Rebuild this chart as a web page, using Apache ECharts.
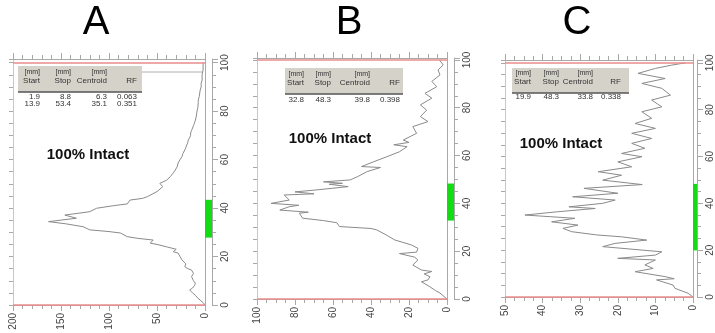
<!DOCTYPE html>
<html>
<head>
<meta charset="utf-8">
<script src="https://cdn.jsdelivr.net/npm/echarts@6/dist/echarts.min.js"></script>
<style>
    html, body { margin: 0; padding: 0; background: #fff; }
    #main { width: 715px; height: 333px; }
</style>
</head>
<body>
<div id="main"></div>
<script type="text/javascript">
    // ---- data: [counts, position mm] ----
    var traceA = [[0,0],[2,1],[5,2],[8,3],[10,4],[13,5],[16,6.2],[13,7],[11,8],[10,9],[12,10],[14,11.7],[12,13],[14,14.4],[18,15],
        [21,15.8],[20,17],[24,18.6],[26,20],[28,21.4],[33,22],[30,23],[40,24],[50,25],[57,25.5],[54,26.8],[70,27.5],[81,28.2],
        [88,29.7],[100,30.3],[120,31],[127,32.3],[145,33.5],[163,34.4],[134,35.8],[146,37.1],[120,38.5],[113,39.9],[95,41],
        [81,41.7],[78,43.3],[65,44],[60,44.7],[58,45.5],[50,46.8],[44,48.8],[47,50.2],[40,51.5],[36,53],[33,54.5],[31,55.7],
        [29,57],[28,58.6],[26,60],[24,61.2],[23,62.5],[21,64],[20,65],[19,66],[18,67],[17.5,68],[16,69],[15,70],[15,71],
        [14,72],[13,73],[12,74],[11,75],[10,76.3],[10,77],[9,78],[8.5,79.5],[8,80.5],[7.5,81.5],[7,82],[7,83.5],[7,84.6],
        [6,86],[5.5,87.5],[5,88.7],[4,90],[4,91.5],[3,92.8],[3,94],[3,95],[2,97],[2,98.5],[2,100]];
    var traceB = [[0,0],[1,0.3],[3.7,2.5],[6,3.5],[9,5.1],[13.4,7.2],[10,8],[9,9.3],[12,10.5],[8,11.5],[13.4,12.1],[18,14.2],
        [15.3,16.3],[17,17.5],[25,19],[16,19.6],[15.3,21.2],[18.7,22.6],[27.5,24.7],[32,26.8],[37,28.9],[40,29.5],[56.6,30.3],
        [58,31.9],[65,32.8],[76,33.8],[77.7,35.9],[73,36.3],[88,37.2],[83,38.6],[78,39.2],[92.6,40],[83,41.4],[85.7,43.5],
        [70,44],[80,44.8],[69,45.6],[52,47],[62,48],[55,48.4],[65,49],[51,49.8],[47,51.2],[42,53.3],[35,55],[45,55.4],
        [38.6,57.4],[31.7,59.5],[25,61.6],[21,63.7],[28,64.5],[20,65.5],[23,66.5],[16,69.3],[18,72.1],[10,74.2],[14,76.3],
        [10.7,79],[14,81.2],[8,84],[11.6,86],[5.4,88.8],[8,91],[3.7,93.7],[4.7,95.8],[2,97.9],[4,100]];
    var traceC = [[0,0],[1.3,1.6],[4.8,3.7],[5.3,5.1],[9.7,7.3],[5,7.8],[7.4,8.7],[15.4,10.8],[10.6,12.2],[12.8,13.7],[10,15.8],
        [20,16.5],[10,17.9],[8.3,19.3],[24,21.5],[20.7,22.9],[12.3,24.3],[19,25.7],[25.6,26.5],[32.3,27.9],[34.6,29.3],
        [30.6,30.7],[37.6,32.1],[31.4,33.6],[44.7,35],[36,36.4],[26,37.8],[33,38.5],[24,40],[20.7,41.4],[32,42.8],[20,44.3],
        [29,46.4],[13.5,48],[24,49.9],[19,52],[25.2,53.5],[16.3,55.6],[20,57.7],[13.6,59.9],[19,61.3],[12.8,63.5],[16.3,65.6],
        [11,67.7],[16.3,69.9],[10,72],[15.4,74.1],[11,76.3],[13.6,79.1],[8.3,81.2],[11,84.1],[6,86.2],[8.3,89.1],[13.6,91.2],
        [7.4,93.3],[14.6,95.5],[10,97.6],[5.7,99],[2,100]];

    // green region [start, stop] on the position strip
    var regionA = [27.8, 43.4];
    var regionB = [32.8, 48.3];
    var regionC = [19.9, 48.3];

    // counts axis: max and label step
    var countMax = [200, 100, 50];
    var countStep = [50, 20, 10];
    var countMinor = [5, 4, 4];

    // tables
    var tableHead1 = ['[mm]', '[mm]', '[mm]', ''];
    var tableHead2 = ['Start', 'Stop', 'Centroid', 'RF'];
    var tableA = [['1.9', '8.8', '6.3', '0.063'], ['13.9', '53.4', '35.1', '0.351']];
    var tableB = [['32.8', '48.3', '39.8', '0.398']];
    var tableC = [['19.9', '48.3', '33.8', '0.338']];

    var panelNames = ['A', 'B', 'C'];
    var intactText = '100% Intact';

    // ---- layout (pixels) ----
    var layout = [
        { left: 13, width: 192, top: 59, bottom: 305, ymax: 101.5, strip: 7, titleX: 96,
          box: [18, 66, 142, 92], cols: [40, 71, 107, 137], hy: [72, 81], ry: [97, 104], intact: [88, 155] },
        { left: 257, width: 190, top: 58, bottom: 299, ymax: 100.8, strip: 7, titleX: 349,
          box: [285, 68, 403, 94], cols: [304, 331, 370, 400], hy: [74, 83], ry: [100], intact: [330, 139] },
        { left: 505, width: 188, top: 60, bottom: 297, ymax: 101.2, strip: 8, titleX: 577,
          box: [512, 68, 629, 93], cols: [531, 559, 593, 621], hy: [73, 82], ry: [97], intact: [561, 144] }
    ];
    var traces = [traceA, traceB, traceC];
    var regions = [regionA, regionB, regionC];
    var tables = [tableA, tableB, tableC];

    var axisGrey = '#a8a8a8';
    var labelColor = '#444';
    var fontFam = '"Liberation Sans", Arial, sans-serif';

    var grids = [], xAxes = [], yAxes = [], series = [], graphics = [];

    for (var i = 0; i < 3; i++) {
        var L = layout[i];
        var h = L.bottom - L.top;
        grids.push({ left: L.left, top: L.top, width: L.width, height: h });
        grids.push({ left: L.left + L.width, top: L.top, width: L.strip, height: h });

        // counts axis, bottom
        xAxes.push({
            type: 'value', gridIndex: 2 * i, inverse: true, min: 0, max: countMax[i], interval: countStep[i],
            position: 'bottom',
            axisLine: { show: true, onZero: false, lineStyle: { color: axisGrey } },
            axisTick: { show: true, length: 6, lineStyle: { color: axisGrey } },
            minorTick: { show: true, splitNumber: countMinor[i], length: 4, lineStyle: { color: axisGrey } },
            axisLabel: { rotate: 90, fontSize: 10, color: labelColor, margin: 8, fontFamily: fontFam },
            splitLine: { show: false }
        });
        // counts axis, top (ticks only)
        xAxes.push({
            type: 'value', gridIndex: 2 * i, inverse: true, min: 0, max: countMax[i], interval: countStep[i],
            position: 'top',
            axisLine: { show: true, onZero: false, lineStyle: { color: axisGrey } },
            axisTick: { show: true, length: 6, lineStyle: { color: axisGrey } },
            minorTick: { show: true, splitNumber: countMinor[i], length: 4, lineStyle: { color: axisGrey } },
            axisLabel: { show: false },
            splitLine: { show: false }
        });
        // strip category axis
        xAxes.push({
            type: 'category', gridIndex: 2 * i + 1, data: ['r'],
            axisLine: { show: false }, axisTick: { show: false }, axisLabel: { show: false }
        });

        // position axis, left (ticks only)
        yAxes.push({
            type: 'value', gridIndex: 2 * i, min: 0, max: L.ymax, interval: 5, position: 'left',
            axisLine: { show: true, onZero: false, lineStyle: { color: '#c8c8c8' } },
            axisTick: { show: true, length: 4, lineStyle: { color: axisGrey } },
            axisLabel: { show: false }, splitLine: { show: false }
        });
        // right frame of the plot
        yAxes.push({
            type: 'value', gridIndex: 2 * i, min: 0, max: L.ymax, position: 'right',
            axisLine: { show: true, onZero: false, lineStyle: { color: axisGrey } },
            axisTick: { show: false }, axisLabel: { show: false }, splitLine: { show: false }
        });
        // position axis on the strip, with labels
        yAxes.push({
            type: 'value', gridIndex: 2 * i + 1, min: 0, max: L.ymax, interval: 20, position: 'right',
            axisLine: { show: true, onZero: false, lineStyle: { color: axisGrey } },
            axisTick: { show: true, length: 6, lineStyle: { color: axisGrey } },
            minorTick: { show: true, splitNumber: 4, length: 4, lineStyle: { color: axisGrey } },
            axisLabel: {
                rotate: 90, fontSize: 10, color: labelColor, margin: 8, fontFamily: fontFam,
                formatter: function (v) { return v % 20 === 0 ? v : ''; }
            },
            splitLine: { show: false }
        });

        series.push({
            type: 'line', xAxisIndex: 3 * i, yAxisIndex: 3 * i, data: traces[i],
            symbol: 'none', lineStyle: { color: '#8a8a8a', width: 1 },
            markLine: {
                silent: true, symbol: 'none', label: { show: false },
                lineStyle: { color: '#ea8d8d', width: 1.5, type: 'solid' },
                data: [{ yAxis: 0 }, { yAxis: 100 }]
            }
        });
        series.push({
            type: 'bar', xAxisIndex: 3 * i + 2, yAxisIndex: 3 * i + 2, stack: 'r' + i,
            data: [regions[i][0]], barWidth: '100%', itemStyle: { color: 'rgba(0,0,0,0)' }
        });
        series.push({
            type: 'bar', xAxisIndex: 3 * i + 2, yAxisIndex: 3 * i + 2, stack: 'r' + i,
            data: [regions[i][1] - regions[i][0]], barWidth: '100%', itemStyle: { color: '#14dc14' }
        });

        // title letter
        graphics.push({
            type: 'text', x: L.titleX, y: 23,
            style: { text: panelNames[i], font: '40px ' + fontFam, fill: '#000', align: 'center', verticalAlign: 'middle' }
        });
        // table header box
        graphics.push({
            type: 'rect', shape: { x: L.box[0], y: L.box[1], width: L.box[2] - L.box[0], height: L.box[3] - L.box[1] },
            style: { fill: '#d5d2ca' }
        });
        graphics.push({
            type: 'line', shape: { x1: L.box[0], y1: L.box[3], x2: L.box[2], y2: L.box[3] },
            style: { stroke: '#555', lineWidth: 1.5 }
        });
        for (var c = 0; c < 4; c++) {
            graphics.push({
                type: 'text', x: L.cols[c], y: L.hy[0],
                style: { text: tableHead1[c], font: '7px ' + fontFam, fill: '#333', align: 'right', verticalAlign: 'middle' }
            });
            graphics.push({
                type: 'text', x: L.cols[c], y: L.hy[1],
                style: { text: tableHead2[c], font: '8px ' + fontFam, fill: '#333', align: 'right', verticalAlign: 'middle' }
            });
            for (var r = 0; r < tables[i].length; r++) {
                graphics.push({
                    type: 'text', x: L.cols[c], y: L.ry[r],
                    style: { text: tables[i][r][c], font: '8px ' + fontFam, fill: '#333', align: 'right', verticalAlign: 'middle' }
                });
            }
        }
        graphics.push({
            type: 'text', x: L.intact[0], y: L.intact[1],
            style: { text: intactText, font: 'bold 15px ' + fontFam, fill: '#111', align: 'center', verticalAlign: 'middle' }
        });
    }
    // thin frame line to the right of table A header
    graphics.push({
        type: 'line', shape: { x1: 142, y1: 72, x2: 202, y2: 72 },
        style: { stroke: '#b0b0b0', lineWidth: 1 }
    });

    var myChart = echarts.init(document.getElementById('main'));
    var option = {
        animation: false,
        backgroundColor: '#fff',
        grid: grids,
        xAxis: xAxes,
        yAxis: yAxes,
        series: series,
        graphic: graphics
    };
    myChart.setOption(option);
</script>
</body>
</html>
